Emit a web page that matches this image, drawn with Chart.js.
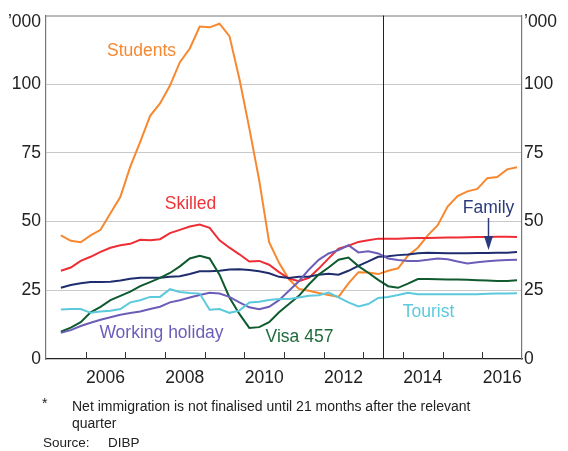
<!DOCTYPE html>
<html>
<head>
<meta charset="utf-8">
<script src="https://cdn.jsdelivr.net/npm/chart.js@4"></script>
<style>
  html, body { margin: 0; padding: 0; background: #fff; }
  #wrap { position: relative; width: 568px; height: 451px; }
  #chart { position: absolute; left: 0; top: 0; }
  .note { position: absolute; font: 14px "Liberation Sans", Arial, sans-serif; line-height: 16px; color: #222; white-space: nowrap; }
  .src { font-size: 13.5px; }
</style>
</head>
<body>
<div id="wrap">
  <canvas id="chart" width="568" height="451"></canvas>
  <div class="note" style="left:42px; top:395px">*</div>
  <div class="note" style="left:72px; top:398px">Net immigration is not finalised until 21 months after the relevant</div>
  <div class="note" style="left:72px; top:415px">quarter</div>
  <div class="note src" style="left:43px; top:435px">Source:</div>
  <div class="note src" style="left:108px; top:435px">DIBP</div>
</div>
<script>
// ========================================
// DATA ('000, 4-quarter sums)
// ========================================

const quarters = [
  'Jun 2005', 'Sep 2005', 'Dec 2005',
  'Mar 2006', 'Jun 2006', 'Sep 2006', 'Dec 2006',
  'Mar 2007', 'Jun 2007', 'Sep 2007', 'Dec 2007',
  'Mar 2008', 'Jun 2008', 'Sep 2008', 'Dec 2008',
  'Mar 2009', 'Jun 2009', 'Sep 2009', 'Dec 2009',
  'Mar 2010', 'Jun 2010', 'Sep 2010', 'Dec 2010',
  'Mar 2011', 'Jun 2011', 'Sep 2011', 'Dec 2011',
  'Mar 2012', 'Jun 2012', 'Sep 2012', 'Dec 2012',
  'Mar 2013', 'Jun 2013', 'Sep 2013', 'Dec 2013',
  'Mar 2014', 'Jun 2014', 'Sep 2014', 'Dec 2014',
  'Mar 2015', 'Jun 2015', 'Sep 2015', 'Dec 2015',
  'Mar 2016', 'Jun 2016', 'Sep 2016', 'Dec 2016'
];

const students = [45, 43, 42.5, 45, 47, 53, 59, 70, 79, 88.5,
  93, 99.5, 108, 113, 121, 120.7, 122, 117.5, 102, 84,
  65, 42.5, 35, 29, 25.5, 24.8, 24, 23.3, 22.6, 27.5,
  31.6, 31.5, 30.9, 32.1, 33, 37.6, 40.5, 45, 48.7, 55.5,
  59.3, 61, 61.9, 65.8, 66.2, 69, 69.8];

const skilled = [32.1, 33.3, 35.7, 37.2, 39, 40.5, 41.4, 41.9, 43.4, 43.2,
  43.6, 45.8, 47, 48.2, 48.9, 47.7, 43.2, 40.5, 38.1, 35.5,
  35.7, 34.3, 31.6, 29.3, 28.3, 29.5, 32.9, 36.6, 40.2, 41.2,
  42.6, 43.2, 43.8, 43.8, 43.8, 43.9, 44, 44, 44.1, 44.2,
  44.2, 44.3, 44.4, 44.4, 44.5, 44.5, 44.4];

const family = [25.9, 26.9, 27.6, 28, 28, 28.1, 28.6, 29.2, 29.6, 29.6,
  29.6, 29.9, 30.1, 30.9, 31.9, 31.9, 32.1, 32.6, 32.7, 32.4,
  31.9, 31.2, 29.9, 29.5, 29.9, 29.9, 30.7, 31, 30.7, 32.1,
  33.9, 35.5, 37.2, 37.4, 37.8, 38, 38.5, 38.7, 38.6, 38.5,
  38.5, 38.5, 38.6, 38.6, 38.7, 38.7, 38.9];

const visa457 = [9.9, 11.4, 13.4, 17, 19, 21.4, 23, 24.5, 26.5, 28,
  29.5, 31.3, 33.7, 36.6, 37.6, 36.6, 30.7, 22.4, 16.4, 11.3,
  11.6, 13.4, 17, 20, 23, 27.1, 30.7, 33.3, 36.1, 36.9,
  33.8, 31.4, 28.8, 26.5, 25.9, 27.4, 29.1, 29.1, 29, 28.9,
  28.9, 28.8, 28.7, 28.6, 28.4, 28.4, 28.7];

const workingHoliday = [9.5, 10.5, 12, 13.2, 14.3, 15.2, 16.1, 16.7, 17.3, 18.2,
  19, 20.6, 21.4, 22.4, 23.3, 24.1, 23.8, 22.6, 20.6, 18.8,
  18.1, 19, 21.4, 24.8, 28.3, 32.5, 36.1, 38.4, 39.6, 41.4,
  38.8, 39.2, 38.4, 36.6, 36, 35.7, 35.7, 36.1, 36.6, 36.3,
  35.5, 34.8, 35.2, 35.6, 35.8, 36, 36.1];

const tourist = [18, 18.2, 18.2, 16.8, 17.3, 17.6, 18.2, 20.6, 21.4, 22.6,
  22.6, 25.4, 24.4, 24, 23.8, 17.9, 18.2, 16.8, 17.6, 20.6,
  20.8, 21.5, 21.8, 21.8, 22.4, 23, 23.2, 24.2, 22.4, 20.6,
  19.1, 20, 22.2, 22.6, 23.3, 24.1, 23.6, 23.6, 23.6, 23.6,
  23.6, 23.6, 23.6, 23.7, 23.8, 23.8, 23.9];

const xLabelYears = [2006, 2008, 2010, 2012, 2014, 2016];
const xTickYears = [2006, 2007, 2008, 2009, 2010, 2011, 2012, 2013, 2014, 2015, 2016];
const yTicks = [0, 25, 50, 75, 100, 125];
const finalisedFrom = 2013.5;

// ========================================
// HELPERS
// ========================================

const FONT = '"Liberation Sans", Arial, sans-serif';
const MONTHS = { Mar: 3, Jun: 6, Sep: 9, Dec: 12 };

// middle of the quarter, as a decimal year
function quarterToYear(q) {
  const parts = q.split(' ');
  return Number(parts[1]) + (MONTHS[parts[0]] - 1.5) / 12;
}

function toPoints(values) {
  return values.map((v, i) => ({ x: quarterToYear(quarters[i]), y: v }));
}

function series(label, values, color) {
  return {
    label: label,
    data: toPoints(values),
    borderColor: color,
    borderWidth: 2,
    pointRadius: 0,
    tension: 0,
    fill: false
  };
}

// ========================================
// ANNOTATIONS (labels, frame, ticks, arrow)
// ========================================

const annotations = {
  id: 'annotations',
  afterDraw(chart) {
    const ctx = chart.ctx;
    const area = chart.chartArea;
    const x = chart.scales.x;
    ctx.save();

    // top frame line
    ctx.strokeStyle = '#777';
    ctx.lineWidth = 1;
    ctx.beginPath();
    ctx.moveTo(area.left, area.top + 0.5);
    ctx.lineTo(area.right, area.top + 0.5);
    ctx.stroke();

    // year ticks pointing into the plot
    ctx.strokeStyle = '#333';
    xTickYears.forEach(yr => {
      const px = Math.round(x.getPixelForValue(yr)) + 0.5;
      ctx.beginPath();
      ctx.moveTo(px, area.bottom);
      ctx.lineTo(px, area.bottom - 7);
      ctx.stroke();
    });

    // vertical line where data is not yet finalised
    const vx = Math.round(x.getPixelForValue(finalisedFrom)) + 0.5;
    ctx.strokeStyle = '#222';
    ctx.beginPath();
    ctx.moveTo(vx, area.top);
    ctx.lineTo(vx, area.bottom);
    ctx.stroke();

    // unit labels
    ctx.font = '17.5px ' + FONT;
    ctx.fillStyle = '#222';
    ctx.textBaseline = 'middle';
    ctx.textAlign = 'right';
    ctx.fillText('\u2019000', area.left - 5, area.top + 7);
    ctx.textAlign = 'left';
    ctx.fillText('\u2019000', area.right + 2, area.top + 7);

    // series labels
    const labels = [
      ['Students', '#f7882f', 141.5, 51],
      ['Skilled', '#ee3338', 190.5, 204.5],
      ['Working holiday', '#6c5db8', 161.5, 333.5],
      ['Visa 457', '#1e6b3a', 299.5, 337],
      ['Tourist', '#5cc9dc', 428.5, 312],
      ['Family', '#2b3a7a', 488.5, 208]
    ];
    ctx.textAlign = 'center';
    labels.forEach(l => {
      ctx.fillStyle = l[1];
      ctx.fillText(l[0], l[2], l[3]);
    });

    // arrow from Family label to its line
    ctx.strokeStyle = '#2b3a7a';
    ctx.fillStyle = '#2b3a7a';
    ctx.lineWidth = 1.5;
    ctx.beginPath();
    ctx.moveTo(488.5, 218);
    ctx.lineTo(488.5, 238);
    ctx.stroke();
    ctx.beginPath();
    ctx.moveTo(484, 236);
    ctx.lineTo(493, 236);
    ctx.lineTo(488.5, 250);
    ctx.closePath();
    ctx.fill();

    ctx.restore();
  }
};

// ========================================
// CHART
// ========================================

Chart.defaults.font.family = FONT;
Chart.defaults.color = '#222';

const yScaleBase = {
  type: 'linear',
  min: 0,
  max: 125,
  afterBuildTicks: s => { s.ticks = yTicks.map(v => ({ value: v })); },
  ticks: {
    font: { size: 17.5 },
    color: '#222',
    callback: v => (v === 125 ? '' : v)
  }
};

new Chart(document.getElementById('chart'), {
  type: 'line',
  data: {
    datasets: [
      series('Tourist', tourist, '#5cc9dc'),
      series('Working holiday', workingHoliday, '#6c5db8'),
      series('Visa 457', visa457, '#0f5a2e'),
      series('Family', family, '#1f2d6e'),
      series('Skilled', skilled, '#ee2d35'),
      series('Students', students, '#f7882f')
    ]
  },
  options: {
    responsive: false,
    animation: false,
    events: [],
    layout: { padding: { top: 9, left: 0, right: 0, bottom: 0 } },
    plugins: {
      legend: { display: false },
      tooltip: { enabled: false }
    },
    scales: {
      x: {
        type: 'linear',
        min: 2005,
        max: 2017,
        afterBuildTicks: s => { s.ticks = xLabelYears.map(v => ({ value: v + 0.5 })); },
        afterFit: s => { s.height = 92; },
        grid: { display: false, drawTicks: false },
        border: { color: '#222', width: 1.2 },
        ticks: {
          font: { size: 17.5 },
          color: '#222',
          padding: 9,
          maxRotation: 0,
          autoSkip: false,
          callback: v => String(Math.floor(v))
        }
      },
      y: Object.assign({}, yScaleBase, {
        position: 'left',
        afterFit: s => { s.width = 46; },
        grid: {
          drawTicks: false,
          color: c => (c.tick && (c.tick.value === 0 || c.tick.value === 125) ? 'rgba(0,0,0,0)' : '#c9c9c9'),
          lineWidth: 1
        },
        border: { color: '#777', width: 1.2 },
        ticks: Object.assign({}, yScaleBase.ticks, { padding: 5 })
      }),
      y2: Object.assign({}, yScaleBase, {
        position: 'right',
        afterFit: s => { s.width = 46; },
        grid: { display: false, drawTicks: false },
        border: { color: '#777', width: 1.2 },
        ticks: Object.assign({}, yScaleBase.ticks, { padding: 2 })
      })
    }
  },
  plugins: [annotations]
});
</script>
</body>
</html>
